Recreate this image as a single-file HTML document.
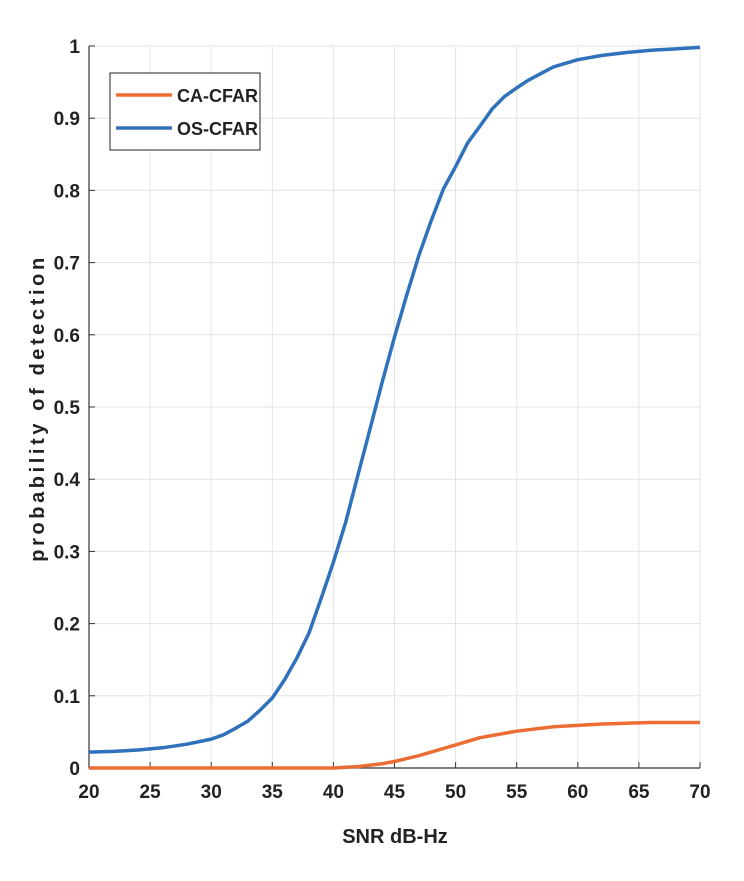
<!DOCTYPE html>
<html><head><meta charset="utf-8"><style>
body{margin:0;background:#fff}
svg text{font-family:"Liberation Sans",sans-serif;font-weight:bold;fill:#222}
</style></head><body>
<svg id="chart" width="744" height="876" xmlns="http://www.w3.org/2000/svg">
<g id="grid"></g>
<g id="axes"></g>
<g id="series"></g>
<text x="395" y="843" text-anchor="middle" font-size="20">SNR dB-Hz</text>
<text transform="translate(44,408) rotate(-90)" text-anchor="middle" font-size="20" letter-spacing="3.6">probability of detection</text>
<g>
<rect x="110" y="73" width="150" height="77" fill="#fff" stroke="#222" stroke-width="1"/>
<line x1="116" y1="95" x2="172" y2="95" stroke="#ec6d34" stroke-width="3.5"/>
<text x="177" y="102" font-size="18">CA-CFAR</text>
<line x1="116" y1="128" x2="172" y2="128" stroke="#2f72bb" stroke-width="3.5"/>
<text x="177" y="135" font-size="18">OS-CFAR</text>
</g>
</svg>
<script>
const snrOS=[20,22,24,26,28,30,31,32,33,34,35,36,37,38,39,40,41,42,43,44,45,46,47,48,49,50,51,52,53,54,55,56,57,58,59,60,62,64,66,68,70];
const pdOS=[0.022,0.023,0.025,0.028,0.033,0.040,0.046,0.055,0.065,0.080,0.097,0.122,0.152,0.187,0.235,0.285,0.340,0.405,0.470,0.535,0.597,0.655,0.710,0.758,0.802,0.833,0.866,0.889,0.913,0.930,0.942,0.953,0.962,0.971,0.976,0.981,0.987,0.991,0.994,0.996,0.998];
const snrCA=[20,30,40,41,42,43,44,45,46,47,48,49,50,51,52,53,54,55,56,57,58,60,62,64,66,68,70];
const pdCA=[0,0,0,0.001,0.002,0.004,0.006,0.009,0.013,0.017,0.022,0.027,0.032,0.037,0.042,0.045,0.048,0.051,0.053,0.055,0.057,0.059,0.061,0.062,0.063,0.063,0.063];
const xTicks=[20,25,30,35,40,45,50,55,60,65,70];
const yTicks=[0,0.1,0.2,0.3,0.4,0.5,0.6,0.7,0.8,0.9,1];
const yTickLabels=["0","0.1","0.2","0.3","0.4","0.5","0.6","0.7","0.8","0.9","1"];
const X0=89,X1=700,Y0=768,Y1=46;
const xs=v=>X0+(v-20)/(70-20)*(X1-X0);
const ys=v=>Y0-v*(Y0-Y1);
const NS="http://www.w3.org/2000/svg";
const grid=document.getElementById('grid'),axes=document.getElementById('axes'),series=document.getElementById('series');
function mk(tag,attrs,parent){const e=document.createElementNS(NS,tag);for(const k in attrs)e.setAttribute(k,attrs[k]);parent.appendChild(e);return e;}
xTicks.forEach(t=>{
  const g=mk('line',{x1:xs(t),x2:xs(t),y1:Y1,y2:Y0,stroke:'#e3e3e3','stroke-width':1},grid);
  
  
  const tk=mk('line',{x1:xs(t),x2:xs(t),y1:Y0,y2:Y0-6,stroke:'#333','stroke-width':1},axes);
  
  
  const l=mk('text',{x:xs(t),y:Y0+30,'text-anchor':'middle','font-size':19},axes);
  l.textContent=t;
  
  
});
yTicks.forEach((t,i)=>{
  const g=mk('line',{x1:X0,x2:X1,y1:ys(t),y2:ys(t),stroke:'#e3e3e3','stroke-width':1},grid);
  
  
  const tk=mk('line',{x1:X0,x2:X0+6,y1:ys(t),y2:ys(t),stroke:'#333','stroke-width':1},axes);
  
  
  const l=mk('text',{x:X0-9,y:ys(t)+7,'text-anchor':'end','font-size':19},axes);
  l.textContent=yTickLabels[i];
  
  
});
const ax=mk('path',{d:`M${X0},${Y1}V${Y0}H${X1}`,fill:'none',stroke:'#333','stroke-width':1.2},axes);


function line(xv,yv,color,name){
  const d=xv.map((x,i)=>(i?'L':'M')+xs(x).toFixed(1)+','+ys(yv[i]).toFixed(1)).join('');
  const p=mk('path',{d:d,fill:'none',stroke:color,'stroke-width':3.5,'stroke-linejoin':'round'},series);
  
  
}
line(snrOS,pdOS,'#2f72bb','os-cfar-line');
line(snrCA,pdCA,'#ec6d34','ca-cfar-line');
</script>
</body></html>
